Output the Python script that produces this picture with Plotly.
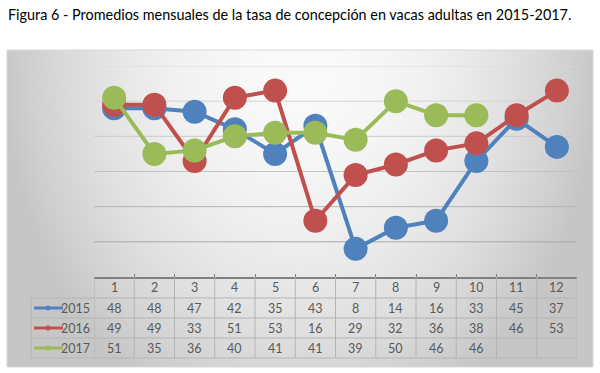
import zlib, struct, base64
import numpy as np
import plotly.graph_objects as go

# ---------------- data ----------------
months = [1, 2, 3, 4, 5, 6, 7, 8, 9, 10, 11, 12]
series_names = ["2015", "2016", "2017"]
v2015 = [48, 48, 47, 42, 35, 43, 8, 14, 16, 33, 45, 37]
v2016 = [49, 49, 33, 51, 53, 16, 29, 32, 36, 38, 46, 53]
v2017 = [51, 35, 36, 40, 41, 41, 39, 50, 46, 46, None, None]
colors = ["#4f81bd", "#c0504d", "#9bbb59"]
title_text = "Figura 6 - Promedios mensuales de la tasa de concepción en vacas adultas en 2015-2017."
grid_values = [10, 20, 30, 40, 50, 60]

W, H = 600, 373
FX0, FY0, FX1, FY1 = 7, 50, 593, 367      # chart frame (px)
PX0, PX1 = 94, 577                         # plot area x (px)
PY_TOP, PY_BOT = 66, 277                   # plot area y (px)

def px(x):
    return x / W

def py(y):
    return (H - y) / H

# ---------------- background gradient image ----------------
def make_png(arr):
    h, w = arr.shape
    raw = b"".join(b"\x00" + bytes(row) for row in arr.astype(np.uint8))
    def chunk(t, d):
        c = struct.pack(">I", len(d)) + t + d
        return c + struct.pack(">I", zlib.crc32(t + d) & 0xffffffff)
    png = (b"\x89PNG\r\n\x1a\n"
           + chunk(b"IHDR", struct.pack(">IIBBBBB", w, h, 8, 0, 0, 0, 0))
           + chunk(b"IDAT", zlib.compress(raw, 9))
           + chunk(b"IEND", b""))
    return "data:image/png;base64," + base64.b64encode(png).decode()

gw, gh = FX1 - FX0, FY1 - FY0
xx, yy = np.meshgrid(np.arange(gw) + FX0, np.arange(gh) + FY0)
u = (xx - 300) / 300.0
v = (yy - 60) / 380.0
r2 = u ** 2 + v ** 2
img = np.clip(250 - 52 * r2, 198, 250)
bg_src = make_png(img)

fig = go.Figure()

for name, vals, col in zip(series_names, [v2015, v2016, v2017], colors):
    fig.add_trace(go.Scatter(
        x=months, y=vals, name=name, mode="lines+markers",
        line=dict(color=col, width=4),
        marker=dict(color=col, size=24, line=dict(width=0)),
        connectgaps=False, showlegend=False, hoverinfo="skip",
    ))

shapes = []
# frame border
shapes.append(dict(type="rect", xref="paper", yref="paper",
                   x0=px(FX0), x1=px(FX1), y0=py(FY1), y1=py(FY0),
                   line=dict(color="#d9d9d9", width=1), layer="below"))
# gridlines
grid_cols = {10: "#a9a9a9", 20: "#b3b3b3", 30: "#c2c2c2", 40: "#cbcbcb", 50: "#d3d3d3", 60: "#dadada"}
for g in grid_values:
    shapes.append(dict(type="line", xref="x", yref="y", x0=0.5, x1=12.5, y0=g, y1=g,
                       line=dict(color=grid_cols[g], width=1), layer="below"))

# table
row_lines = [298, 318, 338, 358]
header_mid = (277 + 298) / 2
row_mids = [(298 + 318) / 2, (318 + 338) / 2, (338 + 358) / 2]
tcol = "#b4b4b4"
for yl in row_lines:
    shapes.append(dict(type="line", xref="x", yref="paper", x0=0.5, x1=12.5,
                       y0=py(yl), y1=py(yl), line=dict(color=tcol, width=1)))
for yl in row_lines:
    shapes.append(dict(type="line", xref="paper", yref="paper", x0=px(31), x1=px(PX0),
                       y0=py(yl), y1=py(yl), line=dict(color=tcol, width=1)))
for k in range(13):
    shapes.append(dict(type="line", xref="x", yref="paper", x0=k + 0.5, x1=k + 0.5,
                       y0=py(358), y1=py(277), line=dict(color=tcol, width=1)))
shapes.append(dict(type="line", xref="paper", yref="paper", x0=px(31), x1=px(31),
                   y0=py(358), y1=py(298), line=dict(color=tcol, width=1)))

annotations = []
annotations.append(dict(text=title_text, xref="paper", yref="paper", x=px(6), y=py(14),
                        xanchor="left", yanchor="middle", showarrow=False,
                        font=dict(family="Lato, Carlito, sans-serif", size=14.4, color="#000000")))
tfont = dict(family="Lato, sans-serif", size=12.5, color="#595959")
for m in months:
    annotations.append(dict(text=str(m), x=m, y=py(header_mid), xref="x", yref="paper",
                            showarrow=False, font=tfont, xanchor="center", yanchor="middle"))
for ri, (name, vals, col) in enumerate(zip(series_names, [v2015, v2016, v2017], colors)):
    ym = row_mids[ri]
    for m, val in zip(months, vals):
        if val is None:
            continue
        annotations.append(dict(text=str(val), x=m, y=py(ym), xref="x", yref="paper",
                                showarrow=False, font=tfont, xanchor="center", yanchor="middle"))
    annotations.append(dict(text=name, x=px(92), y=py(ym), xref="paper", yref="paper",
                            showarrow=False, font=dict(family="Lato, sans-serif", size=12.5, color="#595959"),
                            xanchor="right", yanchor="middle"))
    shapes.append(dict(type="line", xref="paper", yref="paper", x0=px(34), x1=px(63),
                       y0=py(ym), y1=py(ym), line=dict(color=col, width=3)))
    shapes.append(dict(type="circle", xref="paper", yref="paper",
                       x0=px(45.5), x1=px(50.5), y0=py(ym + 2.5), y1=py(ym - 2.5),
                       fillcolor=col, line=dict(width=0)))

fig.update_layout(
    width=W, height=H,
    margin=dict(l=0, r=0, t=0, b=0),
    paper_bgcolor="white",
    plot_bgcolor="rgba(0,0,0,0)",
    showlegend=False,
    images=[dict(source=bg_src, xref="paper", yref="paper",
                 x=px(FX0), y=py(FY0), sizex=px(FX1) - px(FX0), sizey=py(FY0) - py(FY1),
                 xanchor="left", yanchor="top", sizing="stretch", layer="below")],
    xaxis=dict(domain=[px(PX0), px(PX1)], range=[0.5, 12.5], showgrid=False, zeroline=False,
               showline=True, linecolor="#808080", linewidth=2,
               tickmode="array", tickvals=[k + 0.5 for k in range(13)], ticks="inside",
               ticklen=3, tickcolor="#808080", showticklabels=False, fixedrange=True),
    yaxis=dict(domain=[py(PY_BOT), py(PY_TOP)], range=[0, 60], showgrid=False, zeroline=False,
               showline=False, showticklabels=False, fixedrange=True),
    shapes=shapes,
    annotations=annotations,
)

fig.write_html("out.html", config={"displayModeBar": False},
               post_script="document.body.style.margin='0';document.body.style.overflow='hidden';")
